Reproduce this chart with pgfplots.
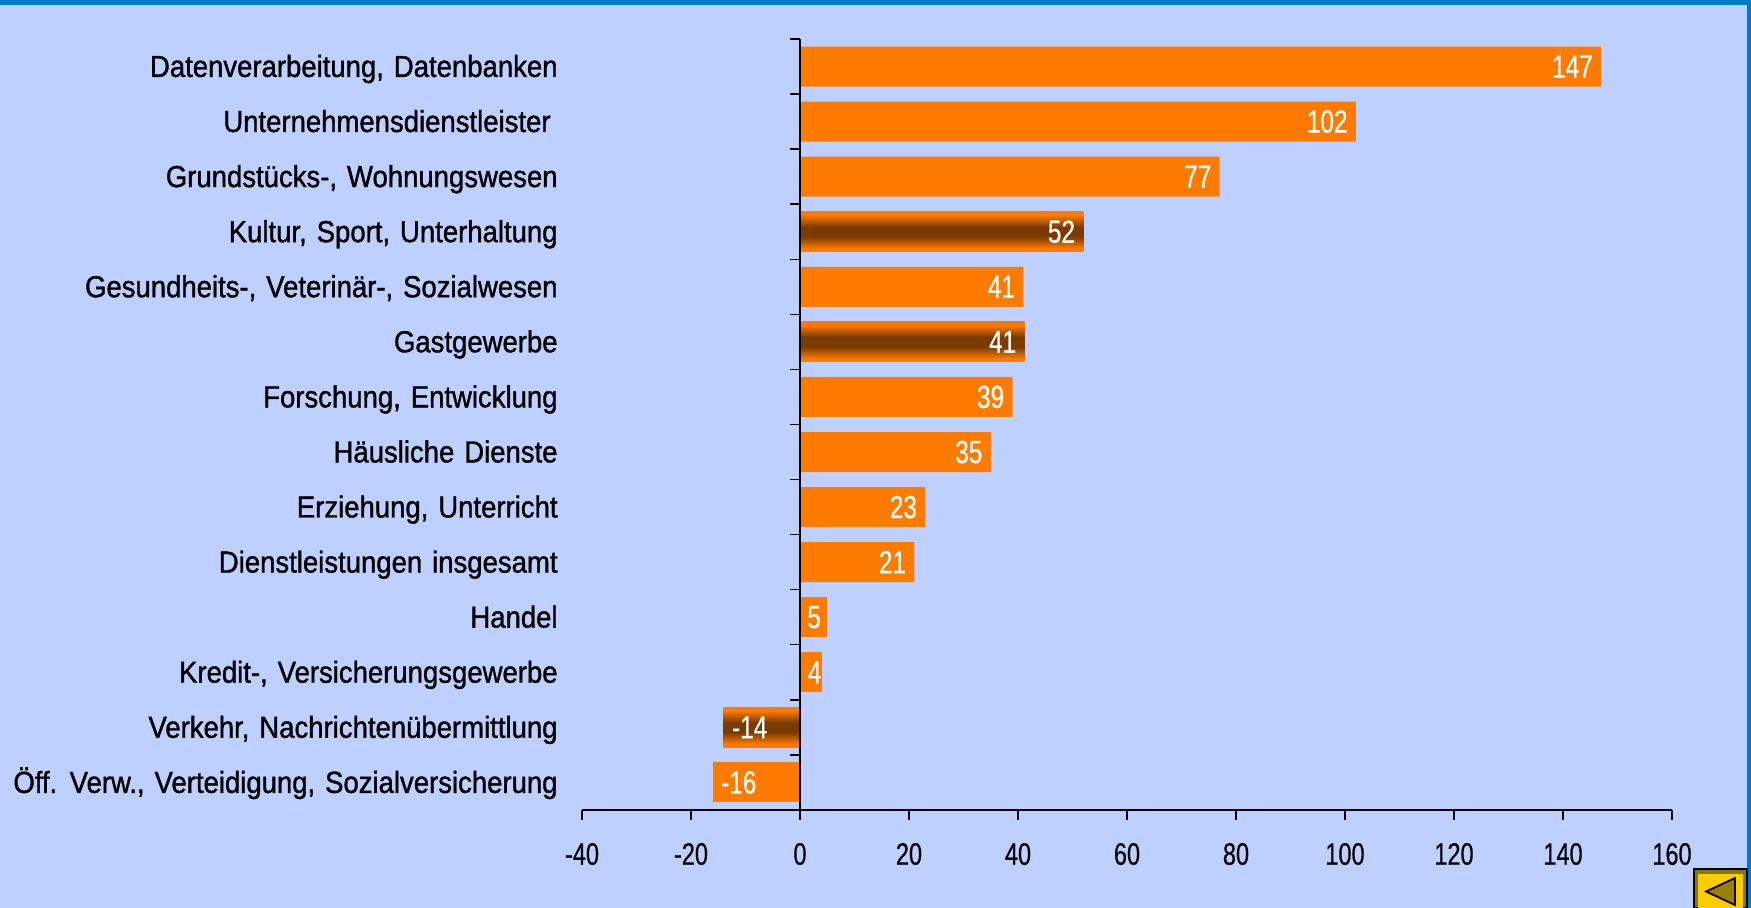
\documentclass[border=0pt]{standalone}
\usepackage{fontspec}
\setmainfont{Liberation Sans}[FakeStretch=0.8]
\newfontfamily\catfont{Liberation Sans}[FakeStretch=0.905,WordSpace=1.3,FakeBold=1.2]
\newfontfamily\numfont{Liberation Sans}[FakeStretch=0.76,FakeBold=0.5]
\usepackage{pgfplots}
\pgfplotsset{compat=1.18}
\definecolor{bg}{HTML}{BDD0FF}
\definecolor{bandblue}{HTML}{007BC9}
\definecolor{barorange}{HTML}{FF7B00}
\definecolor{bardark}{HTML}{7A3A00}
\definecolor{btnyellow}{HTML}{FFCC00}
\definecolor{btndark}{HTML}{998000}
\definecolor{btnedge}{HTML}{8A7320}
\pgfdeclareverticalshading{barshade}{100bp}{color(0bp)=(barorange); color(25bp)=(barorange); color(29bp)=(barorange); color(44bp)=(bardark); color(56bp)=(bardark); color(71bp)=(barorange); color(75bp)=(barorange); color(100bp)=(barorange)}
\begin{document}
\begin{tikzpicture}[x=0.5pt,y=0.5pt]
\path[use as bounding box,fill=bg] (0,0) rectangle (1751,908);
\fill[bandblue] (0,903) rectangle (1751,908);
\fill[bandblue] (1747,0) rectangle (1751,908);
\begin{axis}[
  at={(291pt,49pt)},anchor=south west,
  scale only axis,width=545pt,height=385.5pt,
  xmin=-40,xmax=160,ymin=-0.5,ymax=13.5,
  axis x line=bottom,axis y line=middle,
  axis line style={-,black,line width=0.7pt},
  axis on top,
  tick align=outside,
  tick style={black,line width=0.7pt},
  major tick length=5pt,minor tick length=5pt,
  xtick={-40,-20,...,160},
  ytick={0,...,13},
  minor ytick={-0.5,0.5,...,13.5},
  major y tick style={draw=none},
  yticklabels={{Öff. Verw., Verteidigung, Sozialversicherung},{Verkehr, Nachrichtenübermittlung},{Kredit-, Versicherungsgewerbe},{Handel},{Dienstleistungen insgesamt},{Erziehung, Unterricht},{Häusliche Dienste},{Forschung, Entwicklung},{Gastgewerbe},{Gesundheits-, Veterinär-, Sozialwesen},{Kultur, Sport, Unterhaltung},{Grundstücks-, Wohnungswesen},{Unternehmensdienstleister\hspace*{3.5pt}},{Datenverarbeitung, Datenbanken}},
  yticklabel style={anchor=east,xshift=-116pt,yshift=-1.2pt,font=\fontsize{15.2}{17}\catfont,inner xsep=0pt,text height=11pt,text depth=3pt},
  xticklabel style={font=\fontsize{15.5}{17}\numfont,yshift=-8pt},
  /pgf/number format/assume math mode=true,
  /pgf/number format/fixed,/pgf/number format/precision=0,
  xbar,bar width=20pt,
  /pgfplots/bar shift=0pt,
  nodes near coords,
  nodes near coords style={text=white,font=\fontsize{16}{18}\numfont,anchor=east,inner xsep=4pt,/pgf/number format/fixed,/pgf/number format/precision=0},
]
\addplot[draw=none,fill=barorange] coordinates {(147,13) (102,12) (77,11) (41,9) (39,7) (35,6) (23,5) (21,4)};
\addplot[draw=none,fill=barorange,nodes near coords style={xshift=1pt}] coordinates {(5,3)};
\addplot[draw=none,fill=barorange,nodes near coords style={xshift=4pt}] coordinates {(4,2)};
\addplot[draw=none,shade,shading=barshade] coordinates {(52,10)};
\addplot[draw=none,shade,shading=barshade] coordinates {(41.2,8)};
\addplot[draw=none,shade,shading=barshade,nodes near coords style={anchor=west}] coordinates {(-14,1)};
\addplot[draw=none,fill=barorange,nodes near coords style={anchor=west}] coordinates {(-16,0)};
\end{axis}
\draw[fill=btnedge,draw=black,line width=0.6pt] (1694,0) rectangle (1747,39);
\fill[btnyellow] (1698,0) rectangle (1743,34);
\draw[fill=btndark,draw=black,line width=0.9pt] (1735,30) -- (1735,3) -- (1706,16.5) -- cycle;
\end{tikzpicture}
\end{document}
